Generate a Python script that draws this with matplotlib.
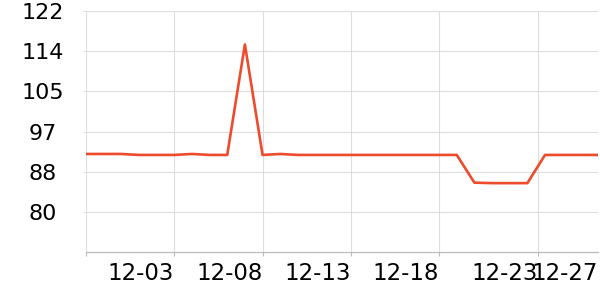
import matplotlib
matplotlib.use('Agg')
from matplotlib import pyplot as plt

# Valeurs journalières (30 points, indices 0..29)
valeurs = [92.1, 92.1, 92.1, 91.9, 91.9, 91.9, 92.1, 91.9, 91.9, 115.0,
           91.9, 92.1, 91.9, 91.9, 91.9, 91.9, 91.9, 91.9, 91.9, 91.9,
           91.9, 91.9, 86.1, 86.0, 86.0, 86.0, 91.9, 91.9, 91.9, 91.9]

# Axe x : positions des graduations et libellés
x_ticks = [0, 5, 10, 15, 20, 25.6]
x_labels = ['', '12-03', '12-08', '12-13', '12-18', '12-23']
x_last_label = '12-27'

# Axe y
y_ticks = [80, 88.4, 96.8, 105.2, 113.6, 122]
y_labels = ['80', '88', '97', '105', '114', '122']
y_min = 71.6

fig = plt.figure(figsize=(6, 3), dpi=100)
ax = fig.add_axes([86 / 600, 48 / 300, 512 / 600, 241 / 300])

jours = list(range(len(valeurs)))
ax.plot(jours, valeurs, color='#ee4b2c', linewidth=1.9, solid_joinstyle='round', zorder=3)

ax.set_xlim(0, len(valeurs) - 1)
ax.set_ylim(y_min, 122)

ax.set_xticks(x_ticks + [len(valeurs) - 1])
ax.set_xticklabels(x_labels + [x_last_label])
ax.set_yticks(y_ticks)
ax.set_yticklabels(y_labels)

ax.grid(True, color='#dddddd', linewidth=0.8)
ax.set_axisbelow(True)

for s in ['top', 'right', 'left']:
    ax.spines[s].set_visible(False)
ax.spines['bottom'].set_color('#bbbbbb')
ax.spines['bottom'].set_linewidth(0.9)

ax.tick_params(axis='x', length=3, color='#bbbbbb', labelsize=16.5, pad=4)
ax.tick_params(axis='y', length=2, color='#dddddd', labelsize=16, pad=29)
for lab in ax.get_xticklabels():
    lab.set_ha('right')
for lab in ax.get_yticklabels():
    lab.set_ha('center')

# dernière graduation sans trait ni grille visible
ax.xaxis.get_major_ticks()[-1].tick1line.set_visible(False)
ax.xaxis.get_major_ticks()[-1].gridline.set_visible(False)

fig.savefig('out.png', dpi=100)
